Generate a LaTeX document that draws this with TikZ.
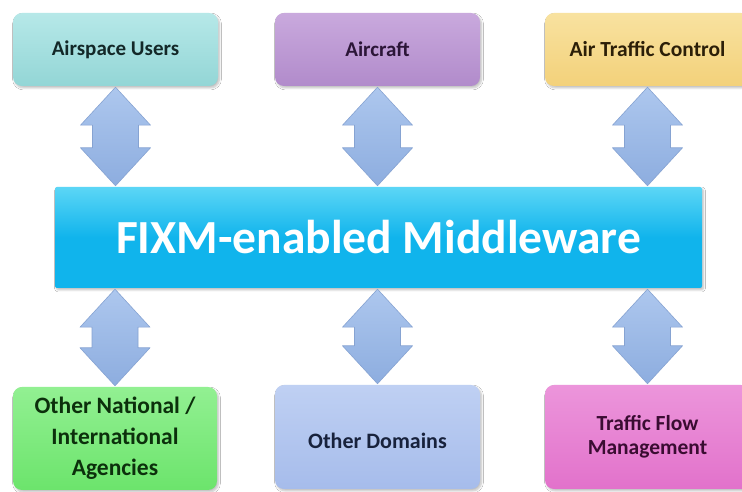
\documentclass[tikz,border=0pt]{standalone}
\usepackage{fontspec}
\setmainfont{Carlito}
\usetikzlibrary{calc,shadows.blur}
\definecolor{auF}{HTML}{93D6D6}\definecolor{auT}{HTML}{B6E8E8}\definecolor{auX}{HTML}{132828}
\definecolor{acF}{HTML}{B18BCB}\definecolor{acT}{HTML}{C9A9DD}\definecolor{acX}{HTML}{2C1638}
\definecolor{atF}{HTML}{F3D17A}\definecolor{atT}{HTML}{F8E2A0}\definecolor{atX}{HTML}{2C1F08}
\definecolor{mwF}{HTML}{10B4EC}\definecolor{mwT}{HTML}{5CD6F6}
\definecolor{onF}{HTML}{6CE46C}\definecolor{onT}{HTML}{92F092}\definecolor{onX}{HTML}{0C300C}
\definecolor{odF}{HTML}{A6BCEB}\definecolor{odT}{HTML}{BFD0F3}\definecolor{odX}{HTML}{18223C}
\definecolor{tfF}{HTML}{E272CB}\definecolor{tfT}{HTML}{EC95DB}\definecolor{tfX}{HTML}{3A0C32}
\definecolor{arT}{HTML}{ADC7EE}\definecolor{arB}{HTML}{8DADDF}\definecolor{arD}{HTML}{86A3D2}
\begin{document}
\begin{tikzpicture}[x=1pt,y=1pt,
  box/.style={rounded corners=9pt, inner sep=0pt, align=center,
    blur shadow={shadow xshift=1.5pt, shadow yshift=-2pt, shadow opacity=25, shadow blur steps=6},
    font=\bfseries},
  arrowfill/.style={top color=arT, bottom color=arB, draw=arD, line width=0.6pt, line join=round}]
\clip (0,0) rectangle (742,492);
\fill[white] (0,0) rectangle (742,492);
% top row
\node[box, top color=auT, bottom color=auF, text=auX, minimum width=205pt, minimum height=73pt, font=\bfseries\fontsize{21}{25}\selectfont] (au) at (115.5,442.5) {Airspace Users};
\node[box, top color=acT, bottom color=acF, text=acX, minimum width=205pt, minimum height=73pt, font=\bfseries\fontsize{21}{25}\selectfont] (ac) at (377.5,442.5) {Aircraft};
\node[box, top color=atT, bottom color=atF, text=atX, minimum width=205pt, minimum height=73pt, font=\bfseries\fontsize{21.5}{25}\selectfont] (at) at (647.5,442.5) {Air Traffic Control};
% middle
\node[box, top color=mwT, bottom color=mwF, middle color=mwF, rounded corners=2pt, text=white, minimum width=647pt, minimum height=101pt, font=\bfseries\fontsize{47.5}{52}\selectfont] (mw) at (378.5,254.5) {FIXM-enabled Middleware};
% bottom row
\node[box, top color=onT, bottom color=onF, text=onX, minimum width=204pt, minimum height=103pt, font=\bfseries\fontsize{23.5}{31}\selectfont] (on) at (115,53.5) {Other National /\\International\\Agencies};
\node[box, top color=odT, bottom color=odF, text=odX, minimum width=205pt, minimum height=104pt, font=\bfseries\fontsize{22}{26}\selectfont] (od) at (377.5,55) {\raisebox{-12pt}[0pt][0pt]{Other Domains}};
\node[box, top color=tfT, bottom color=tfF, text=tfX, minimum width=205pt, minimum height=104pt, font=\bfseries\fontsize{21.5}{24}\selectfont] (tf) at (647.5,55) {Traffic Flow\\Management};
% double arrows
\newcommand\dblarrow[3]{% #1 top node, #2 bottom node, #3 node giving x
  \path[arrowfill] let \p1=($(#1.south)+(0,-1)$), \p2=($(#2.north)+(0,1)$), \p3=(#3.center) in
    (\x3,\y1) -- (\x3+35pt,\y1-38pt) -- (\x3+23pt,\y1-38pt) -- (\x3+23pt,\y2+38pt)
    -- (\x3+35pt,\y2+38pt) -- (\x3,\y2) -- (\x3-35pt,\y2+38pt) -- (\x3-23pt,\y2+38pt)
    -- (\x3-23pt,\y1-38pt) -- (\x3-35pt,\y1-38pt) -- cycle;}
\dblarrow{au}{mw}{au}
\dblarrow{ac}{mw}{ac}
\dblarrow{at}{mw}{at}
\dblarrow{mw}{on}{on}
\dblarrow{mw}{od}{od}
\dblarrow{mw}{tf}{tf}
\end{tikzpicture}
\end{document}
